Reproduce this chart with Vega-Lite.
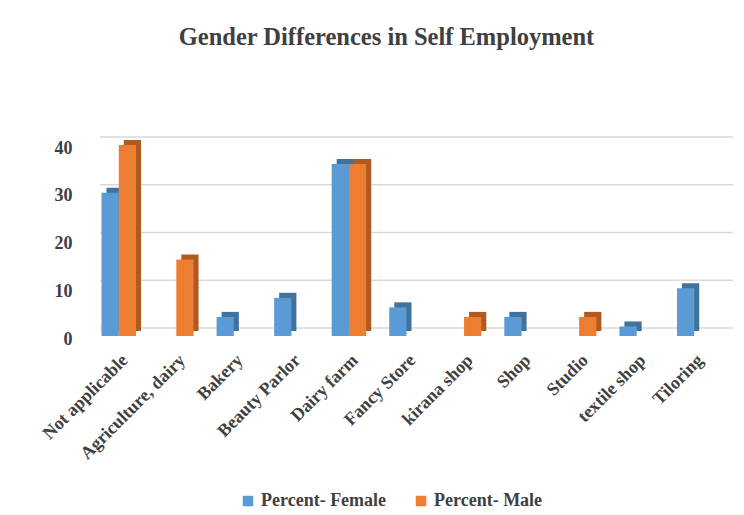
{
  "$schema": "https://vega.github.io/schema/vega-lite/v6.json",
  "width": 633,
  "height": 191,
  "autosize": "none",
  "padding": {"left": 100, "top": 145, "right": 11, "bottom": 179},
  "background": "white",
  "title": {
    "text": "Gender Differences in Self Employment",
    "font": "Liberation Serif",
    "fontWeight": "bold",
    "fontSize": 24.5,
    "color": "#404040",
    "anchor": "middle",
    "dx": -30,
    "offset": 86
  },
  "config": {"view": {"stroke": null}},
  "datasets": {
    "bars": [
      {"category": "Not applicable", "series": "Percent- Female", "value": 30},
      {"category": "Not applicable", "series": "Percent- Male", "value": 40},
      {"category": "Agriculture, dairy", "series": "Percent- Female", "value": 0},
      {"category": "Agriculture, dairy", "series": "Percent- Male", "value": 16},
      {"category": "Bakery", "series": "Percent- Female", "value": 4},
      {"category": "Bakery", "series": "Percent- Male", "value": 0},
      {"category": "Beauty Parlor", "series": "Percent- Female", "value": 8},
      {"category": "Beauty Parlor", "series": "Percent- Male", "value": 0},
      {"category": "Dairy farm", "series": "Percent- Female", "value": 36},
      {"category": "Dairy farm", "series": "Percent- Male", "value": 36},
      {"category": "Fancy Store", "series": "Percent- Female", "value": 6},
      {"category": "Fancy Store", "series": "Percent- Male", "value": 0},
      {"category": "kirana shop", "series": "Percent- Female", "value": 0},
      {"category": "kirana shop", "series": "Percent- Male", "value": 4},
      {"category": "Shop", "series": "Percent- Female", "value": 4},
      {"category": "Shop", "series": "Percent- Male", "value": 0},
      {"category": "Studio", "series": "Percent- Female", "value": 0},
      {"category": "Studio", "series": "Percent- Male", "value": 4},
      {"category": "textile shop", "series": "Percent- Female", "value": 2},
      {"category": "textile shop", "series": "Percent- Male", "value": 0},
      {"category": "Tiloring", "series": "Percent- Female", "value": 10},
      {"category": "Tiloring", "series": "Percent- Male", "value": 0}
    ],
    "grid": [{"g": 0}, {"g": 10}, {"g": 20}, {"g": 30}, {"g": 40}]
  },
  "layer": [
    {
      "data": {"name": "grid"},
      "mark": {"type": "rule", "color": "#d9d9d9", "strokeWidth": 1.5, "yOffset": -8},
      "encoding": {
        "y": {"field": "g", "type": "quantitative", "scale": {"domain": [0, 40], "nice": false},
          "axis": {"values": [0, 10, 20, 30, 40], "grid": false, "ticks": false, "domain": false, "title": null, "labelOffset": 3,
            "labelFont": "Liberation Serif", "labelFontWeight": "bold", "labelFontSize": 18, "labelColor": "#404040", "labelPadding": 28}}
      }
    },
    {
      "data": {"name": "bars"},
      "mark": {"type": "bar", "yOffset": -5},
      "encoding": {
        "x": {"field": "category", "type": "nominal", "sort": null,
          "scale": {"range": [-5, 628], "paddingInner": 0.4, "paddingOuter": 0.2},
          "axis": null},
        "xOffset": {"field": "series", "type": "nominal", "scale": {"paddingInner": 0}},
        "y": {"field": "value", "type": "quantitative"},
        "color": {"field": "series", "type": "nominal", "scale": {"range": ["#41719c", "#ae5a21"]}, "legend": null}
      }
    },
    {
      "data": {"name": "bars"},
      "mark": {"type": "bar"},
      "encoding": {
        "x": {"field": "category", "type": "nominal", "sort": null,
          "scale": {"range": [-10, 623], "paddingInner": 0.4, "paddingOuter": 0.2},
          "axis": {"title": null, "labelAngle": -45, "ticks": false, "domain": false, "labelPadding": 15,
            "labelFont": "Liberation Serif", "labelFontWeight": "bold", "labelFontSize": 18, "labelColor": "#404040", "labelLimit": 300}},
        "xOffset": {"field": "series", "type": "nominal", "scale": {"paddingInner": 0}},
        "y": {"field": "value", "type": "quantitative"},
        "color": {"field": "series", "type": "nominal", "scale": {"range": ["#5b9bd5", "#ed7d31"]},
          "legend": {"title": null, "orient": "none", "legendX": 139, "legendY": 347, "direction": "horizontal",
            "symbolType": "square", "symbolSize": 110, "symbolStrokeWidth": 0, "columnPadding": 25,
            "labelFont": "Liberation Serif", "labelFontWeight": "bold", "labelFontSize": 18, "labelColor": "#404040", "labelLimit": 300}}
      }
    }
  ],
  "resolve": {"scale": {"color": "independent", "x": "independent", "xOffset": "independent"}}
}
